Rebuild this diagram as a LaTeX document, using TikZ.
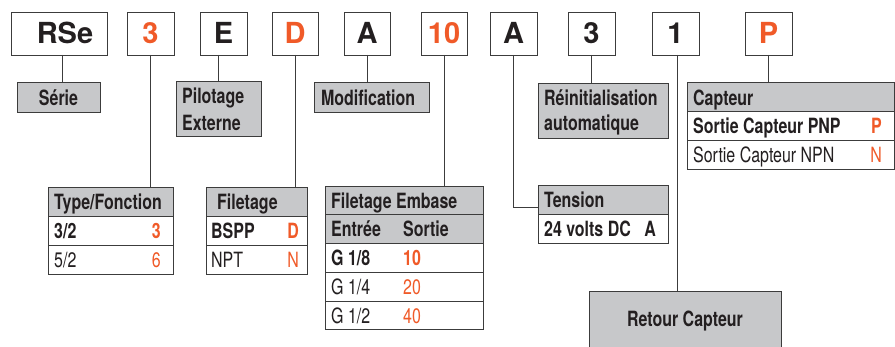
\documentclass[tikz,border=0pt]{standalone}
\usepackage{fontspec}
\setmainfont{TeX Gyre Heros}
\newfontfamily\condfont{TeX Gyre Heros}[FakeStretch=0.76]
\usetikzlibrary{calc}
\definecolor{orng}{RGB}{240,90,40}
\definecolor{boxgray}{RGB}{199,200,202}
\definecolor{edge}{RGB}{60,60,60}
\definecolor{ink}{RGB}{35,31,32}
\tikzset{
  codebox/.style={draw=edge, line width=0.9pt, fill=white, inner sep=0pt, outer sep=0pt, anchor=north west, minimum height=43pt},
  labbox/.style={draw=edge, line width=0.9pt, fill=boxgray, inner sep=0pt, outer sep=0pt, anchor=north west},
  rowbox/.style={draw=edge, line width=0.9pt, fill=white, inner sep=0pt, outer sep=0pt, anchor=north west},
  codetxt/.style={font=\fontsize{29}{31}\selectfont\bfseries, inner sep=0pt, anchor=base, text=ink},
  hd/.style={font=\condfont\fontsize{21}{24}\selectfont\bfseries, inner sep=0pt, anchor=base west, text=ink},
  rg/.style={font=\condfont\fontsize{21}{24}\selectfont, inner sep=0pt, anchor=base west, text=ink},
  link/.style={draw=edge, line width=0.9pt},
}
\begin{document}
\begin{tikzpicture}[x=1pt,y=-1pt]
\clip (0,0) rectangle (895,347);
\fill[white] (0,0) rectangle (895,347);

% code boxes
\node[codebox, minimum width=96pt] (cRSe) at (11,12) {};
\node[codebox, minimum width=47pt] (c3) at (127,12) {};
\node[codebox, minimum width=47pt] (cE) at (200,12) {};
\node[codebox, minimum width=46pt] (cD) at (272,12) {};
\node[codebox, minimum width=46pt] (cA) at (344,12) {};
\node[codebox, minimum width=46pt] (c10) at (421,12) {};
\node[codebox, minimum width=47pt] (cA2) at (490,12) {};
\node[codebox, minimum width=47pt] (c3b) at (568,12) {};
\node[codebox, minimum width=47pt] (c1) at (652,12) {};
\node[codebox, minimum width=47pt] (cP) at (745,12) {};

\node[codetxt] (tRSe) at ([xshift=6pt,yshift=11pt]cRSe.south) {RSe};
\node[codetxt, text=orng] (t3) at ([yshift=11pt]c3.south) {3};
\node[codetxt] (tE) at ([yshift=11pt]cE.south) {E};
\node[codetxt, text=orng] (tD) at ([yshift=11pt]cD.south) {D};
\node[codetxt] (tA) at ([yshift=11pt]cA.south) {A};
\node[codetxt, text=orng] (t10) at ([yshift=11pt]c10.south) {10};
\node[codetxt] (tA2) at ([yshift=11pt]cA2.south) {A};
\node[codetxt] (t3b) at ([yshift=11pt]c3b.south) {3};
\node[codetxt] (t1) at ([yshift=11pt]c1.south) {1};
\node[codetxt, text=orng] (tP) at ([yshift=11pt]cP.south) {P};

% simple label boxes
\node[labbox, minimum width=83pt, minimum height=30pt] (serie) at (17,82) {};
\node[hd, anchor=base] (tserie) at ([yshift=6pt]serie.south) {Série};

\node[labbox, minimum width=85pt, minimum height=55pt] (pil) at (176,81) {};
\node[hd] (tpil1) at ([xshift=6pt,yshift=32pt]pil.south west) {Pilotage};
\node[hd] (tpil2) at ([xshift=6pt,yshift=5pt]pil.south west) {Externe};

\node[labbox, minimum width=115pt, minimum height=30pt] (modif) at (314,82) {};
\node[hd] (tmodif) at ([xshift=7pt,yshift=6pt]modif.south west) {Modification};

\node[labbox, minimum width=130pt, minimum height=55pt] (reinit) at (538,83) {};
\node[hd] (treinit1) at ([xshift=6pt,yshift=32pt]reinit.south west) {Réinitialisation};
\node[hd] (treinit2) at ([xshift=6pt,yshift=7pt]reinit.south west) {automatique};

% Capteur table
\node[labbox, minimum width=207pt, minimum height=29pt] (caph) at (687,82) {};
\node[rowbox, minimum width=207pt, minimum height=29pt] (cap1) at (687,111) {};
\node[rowbox, minimum width=207pt, minimum height=29pt] (cap2) at (687,140) {};
\node[hd] (tcaph) at ([xshift=6pt,yshift=5.5pt]caph.south west) {Capteur};
\node[hd] (tcap1) at ([xshift=6pt,yshift=6pt]cap1.south west) {Sortie Capteur PNP};
\node[hd, anchor=base east, text=orng] (vcap1) at ([xshift=-12pt,yshift=6pt]cap1.south east) {P};
\node[rg] (tcap2) at ([xshift=6pt,yshift=6pt]cap2.south west) {Sortie Capteur NPN};
\node[rg, anchor=base east, text=orng] (vcap2) at ([xshift=-12pt,yshift=6pt]cap2.south east) {N};

% Type/Fonction table
\node[labbox, minimum width=125pt, minimum height=29pt] (typh) at (48,187) {};
\node[rowbox, minimum width=125pt, minimum height=29pt] (typ1) at (48,216) {};
\node[rowbox, minimum width=125pt, minimum height=29pt] (typ2) at (48,245) {};
\node[hd] (ttyph) at ([xshift=6pt,yshift=6pt]typh.south west) {Type/Fonction};
\node[hd] (ttyp1) at ([xshift=6pt,yshift=6pt]typ1.south west) {3/2};
\node[hd, anchor=base east, text=orng] (vtyp1) at ([xshift=-12pt,yshift=6pt]typ1.south east) {3};
\node[rg] (ttyp2) at ([xshift=6pt,yshift=6pt]typ2.south west) {5/2};
\node[rg, anchor=base east, text=orng] (vtyp2) at ([xshift=-12pt,yshift=6pt]typ2.south east) {6};

% Filetage table
\node[labbox, minimum width=101pt, minimum height=29pt] (filh) at (206,187) {};
\node[rowbox, minimum width=101pt, minimum height=29pt] (fil1) at (206,216) {};
\node[rowbox, minimum width=101pt, minimum height=29pt] (fil2) at (206,245) {};
\node[hd] (tfilh) at ([xshift=11pt,yshift=6pt]filh.south west) {Filetage};
\node[hd] (tfil1) at ([xshift=5pt,yshift=6pt]fil1.south west) {BSPP};
\node[hd, anchor=base east, text=orng] (vfil1) at ([xshift=-8pt,yshift=6pt]fil1.south east) {D};
\node[rg] (tfil2) at ([xshift=5pt,yshift=6pt]fil2.south west) {NPT};
\node[rg, anchor=base east, text=orng] (vfil2) at ([xshift=-8pt,yshift=6pt]fil2.south east) {N};

% Filetage Embase table
\node[labbox, minimum width=158pt, minimum height=28pt] (embh) at (325,186) {};
\node[labbox, minimum width=158pt, minimum height=29pt] (embs) at (325,214) {};
\node[rowbox, minimum width=158pt, minimum height=29pt] (emb1) at (325,243) {};
\node[rowbox, minimum width=158pt, minimum height=29pt] (emb2) at (325,272) {};
\node[rowbox, minimum width=158pt, minimum height=28pt] (emb3) at (325,301) {};
\node[hd] (tembh) at ([xshift=6pt,yshift=5.5pt]embh.south west) {Filetage Embase};
\node[hd] (tembs1) at ([xshift=6pt,yshift=6pt]embs.south west) {Entrée};
\node[hd] (tembs2) at ([xshift=78pt,yshift=6pt]embs.south west) {Sortie};
\node[hd] (temb1) at ([xshift=6pt,yshift=6pt]emb1.south west) {G 1/8};
\node[hd, text=orng] (vemb1) at ([xshift=78pt,yshift=6pt]emb1.south west) {10};
\node[rg] (temb2) at ([xshift=6pt,yshift=6pt]emb2.south west) {G 1/4};
\node[rg, text=orng] (vemb2) at ([xshift=78pt,yshift=6pt]emb2.south west) {20};
\node[rg] (temb3) at ([xshift=6pt,yshift=5.5pt]emb3.south west) {G 1/2};
\node[rg, text=orng] (vemb3) at ([xshift=78pt,yshift=5.5pt]emb3.south west) {40};

% Tension table
\node[rowbox, minimum width=130pt, minimum height=58pt] (tension) at (538,185) {};
\node[labbox, minimum width=130pt, minimum height=29pt] (tensh) at (538,185) {};
\node[hd] (ttensh) at ([xshift=6pt,yshift=6pt]tensh.south west) {Tension};
\node[hd] (ttens1) at ([xshift=6pt,yshift=6pt]tension.south west) {24 volts DC};
\node[hd, anchor=base east] (vtens1) at ([xshift=-12pt,yshift=6pt]tension.south east) {A};

% Retour Capteur
\node[labbox, minimum width=192pt, minimum height=80pt] (retour) at (589,291) {};
\node[hd, anchor=base] (tretour) at ([yshift=-36pt]retour.north) {Retour Capteur};

% connectors
\draw[link] ([xshift=3pt]cRSe.south) -- ([xshift=3pt]cRSe.south |- serie.north);
\draw[link] (c3.south) -- (c3.south |- typh.north);
\draw[link] (cE.south -| pil.north) -- (pil.north);
\draw[link] (cD.south) -- (cD.south |- filh.north);
\draw[link] (cA.south) -- (cA.south |- modif.north);
\draw[link] (c10.south) -- (c10.south |- embh.north);
\draw[link] (cA2.south) |- ([yshift=7pt]tension.west);
\draw[link] (c3b.south) -- (c3b.south |- reinit.north);
\draw[link] ([xshift=2pt]c1.south) -- ([xshift=2pt]c1.south |- retour.north);
\draw[link] (cP.south) -- (cP.south |- caph.north);
\end{tikzpicture}
\end{document}
